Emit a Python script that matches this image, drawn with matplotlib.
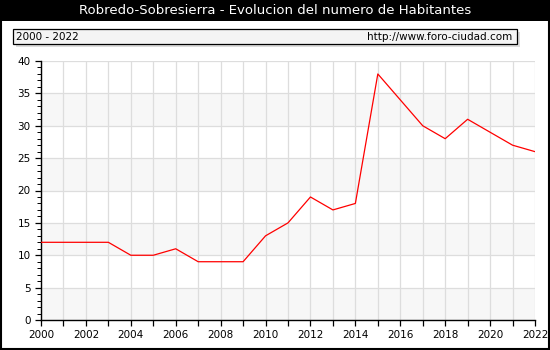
import matplotlib.pyplot as plt
from matplotlib.patches import Rectangle
from matplotlib.ticker import MultipleLocator

# Population by year
years = list(range(2000, 2023))
habitantes = [12, 12, 12, 12, 10, 10, 11, 9, 9, 9, 13, 15, 19, 17, 18,
              38, 34, 30, 28, 31, 29, 27, 26]
x_ticks = list(range(2000, 2023, 2))
y_ticks = list(range(0, 41, 5))

fig = plt.figure(figsize=(5.5, 3.5), dpi=100)
W, H = 550, 350

# Black title bar
fig.patches.append(Rectangle((0, 1 - 21 / H), 1, 21 / H, transform=fig.transFigure,
                             facecolor="black", edgecolor="none", zorder=0))
fig.text(0.5, 1 - 11 / H, "Robredo-Sobresierra - Evolucion del numero de Habitantes",
         color="white", ha="center", va="center", fontsize=9.5)

# Period / source box with a light shadow
fig.patches.append(Rectangle((16 / W, 1 - 47 / H), 504 / W, 15 / H, transform=fig.transFigure,
                             facecolor="#dcdcdc", edgecolor="none", zorder=1))
fig.patches.append(Rectangle((13 / W, 1 - 44 / H), 504 / W, 15 / H, transform=fig.transFigure,
                             facecolor="#f4f4f4", edgecolor="black", linewidth=0.9, zorder=2))
fig.text(16 / W, 1 - 36.5 / H, "2000 - 2022", ha="left", va="center", fontsize=7.5, zorder=3)
fig.text(512 / W, 1 - 36.5 / H, "http://www.foro-ciudad.com", ha="right", va="center",
         fontsize=7.5, zorder=3)

# Outer frame
fig.patches.append(Rectangle((0.001, 0.002), 0.997, 0.996, transform=fig.transFigure,
                             facecolor="none", edgecolor="black", linewidth=1.5, zorder=5))

ax = fig.add_axes([41 / W, 30 / H, 494 / W, 259 / H])
ax.set_xlim(2000, 2022)
ax.set_ylim(0, 40)

# Alternating horizontal bands
for lo in range(0, 40, 10):
    ax.axhspan(lo, lo + 5, facecolor="#f7f7f7", edgecolor="none", zorder=0)

ax.set_xticks(years, minor=False)
ax.set_xticklabels([str(y) if y in x_ticks else "" for y in years])
ax.set_yticks(y_ticks)
ax.yaxis.set_minor_locator(MultipleLocator(1))
ax.grid(True, which="major", color="#dddddd", linewidth=0.9, zorder=1)
ax.set_axisbelow(True)

ax.plot(years, habitantes, color="red", linewidth=0.9, zorder=3)

for side in ["top", "right"]:
    ax.spines[side].set_visible(False)
for side in ["left", "bottom"]:
    ax.spines[side].set_linewidth(1.0)
ax.tick_params(axis="both", which="major", length=4, width=0.9, labelsize=7.5, direction="out")
ax.tick_params(axis="y", which="minor", length=3, width=0.7, direction="out")
ax.tick_params(axis="x", pad=3)

fig.savefig("out.png", dpi=100)
